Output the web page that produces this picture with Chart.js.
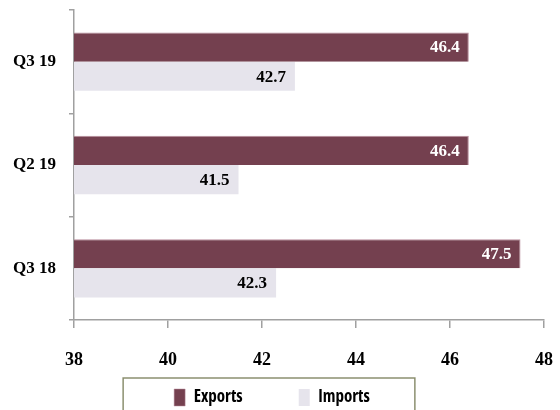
<!DOCTYPE html>
<html>
<head>
<meta charset="utf-8">
<script src="https://cdn.jsdelivr.net/npm/chart.js@4.4.1/dist/chart.umd.min.js"></script>
<style>
  html, body { margin: 0; padding: 0; background: #ffffff; }
  #wrap { width: 560px; height: 410px; position: relative; }
</style>
</head>
<body>
<div id="wrap"><canvas id="c" width="560" height="410"></canvas></div>
<script>
// Quarterly trade figures
const quarters = ['Q3 19', 'Q2 19', 'Q3 18'];
const exportsValues = [46.4, 46.4, 47.5];
const importsValues = [42.7, 41.5, 42.3];
const xTicks = [38, 40, 42, 44, 46, 48];

const serifBold = { family: '"Liberation Serif", "Times New Roman", serif', weight: 'bold' };
const legendGap = 56;

// Value labels drawn inside the end of each bar
const barValueLabels = {
  id: 'barValueLabels',
  afterDatasetsDraw(chart) {
    const ctx = chart.ctx;
    ctx.save();
    ctx.font = 'bold 17px "Liberation Serif", "Times New Roman", serif';
    ctx.textAlign = 'right';
    ctx.textBaseline = 'middle';
    chart.data.datasets.forEach((ds, di) => {
      const meta = chart.getDatasetMeta(di);
      meta.data.forEach((bar, i) => {
        ctx.fillStyle = ds.labelColor;
        ctx.fillText(ds.data[i].toFixed(1), bar.x - 9, bar.y + 1);
      });
    });
    ctx.restore();
  }
};

// Let the x-axis labels use the space down to the legend row
const axisLabelRoom = {
  id: 'axisLabelRoom',
  afterLayout(chart) {
    const x = chart.scales.x;
    x.bottom = chart.height;
    x.height = x.bottom - x.top;
  }
};

// Framed box around the legend entries
const legendFrame = {
  id: 'legendFrame',
  afterDraw(chart) {
    const lg = chart.legend;
    if (!lg || !lg.legendHitBoxes || !lg.legendHitBoxes.length) return;
    const boxes = lg.legendHitBoxes;
    const first = boxes[0], last = boxes[boxes.length - 1];
    const left = first.left - 51;
    const right = last.left + last.width + 45;
    const top = first.top - 11;
    const ctx = chart.ctx;
    ctx.save();
    ctx.strokeStyle = '#8c9070';
    ctx.lineWidth = 1.5;
    ctx.beginPath();
    ctx.moveTo(left, chart.height + 2);
    ctx.lineTo(left, top);
    ctx.lineTo(right, top);
    ctx.lineTo(right, chart.height + 2);
    ctx.stroke();
    ctx.restore();
  }
};

new Chart(document.getElementById('c'), {
  type: 'bar',
  data: {
    labels: quarters,
    datasets: [
      {
        label: 'Exports',
        data: exportsValues,
        backgroundColor: '#74404f',
        borderColor: '#b98d9c',
        borderWidth: { top: 1, right: 1, bottom: 0, left: 0 },
        borderSkipped: 'start',
        labelColor: '#ffffff',
        categoryPercentage: 0.565,
        barPercentage: 1.0
      },
      {
        label: 'Imports',
        data: importsValues,
        backgroundColor: '#e6e4ec',
        borderWidth: 0,
        labelColor: '#000000',
        categoryPercentage: 0.565,
        barPercentage: 1.0
      }
    ]
  },
  options: {
    indexAxis: 'y',
    responsive: false,
    animation: false,
    events: [],
    layout: { padding: { top: 10, right: 16, left: 0, bottom: 0 } },
    plugins: {
      tooltip: { enabled: false },
      legend: {
        position: 'bottom',
        maxHeight: 410 - 389 + legendGap,
        labels: {
          boxWidth: 11,
          boxHeight: 17,
          padding: legendGap,
          color: '#000000',
          font: { family: '"Open Sans", "Liberation Sans", Arial, sans-serif', size: 17, weight: 'bold condensed' }
        }
      }
    },
    scales: {
      x: {
        type: 'linear',
        min: 38,
        max: 48,
        afterBuildTicks(scale) { scale.ticks = xTicks.map(v => ({ value: v })); },
        afterFit(scale) { scale.height = 389 - legendGap - 320; scale.paddingLeft = 0; scale.paddingRight = 0; },
        border: { display: true, color: '#a0a0a0', width: 1.5 },
        grid: { display: true, drawOnChartArea: false, drawTicks: true, tickLength: 8, color: '#a0a0a0', lineWidth: 1.5 },
        ticks: { color: '#000000', padding: 22, font: Object.assign({ size: 18 }, serifBold) }
      },
      y: {
        type: 'category',
        offset: true,
        afterFit(scale) { scale.width = 74; scale.paddingTop = 0; scale.paddingBottom = 0; },
        border: { display: true, color: '#a0a0a0', width: 1.5 },
        grid: { display: true, offset: true, drawOnChartArea: false, drawTicks: true, tickLength: 5, color: '#a0a0a0', lineWidth: 1.5 },
        ticks: { color: '#000000', padding: 13, font: Object.assign({ size: 17 }, serifBold) }
      }
    }
  },
  plugins: [barValueLabels, axisLabelRoom, legendFrame]
});
</script>
</body>
</html>
